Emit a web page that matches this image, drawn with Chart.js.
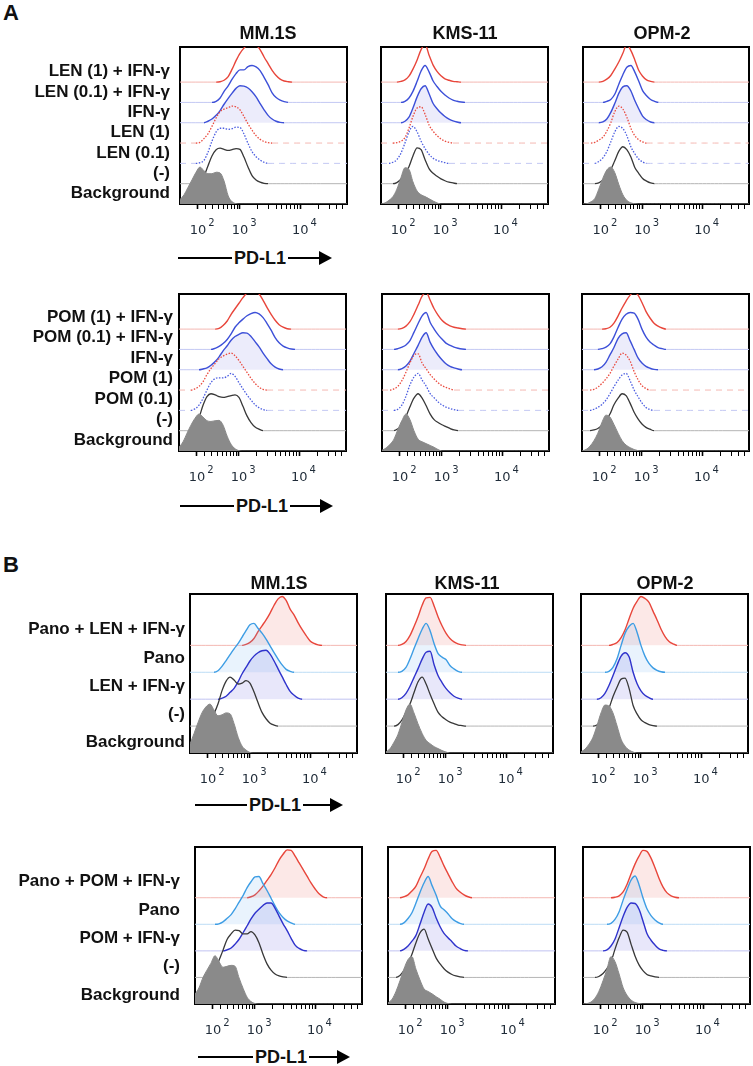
<!DOCTYPE html>
<html>
<head>
<meta charset="utf-8">
<script src="https://cdn.jsdelivr.net/npm/chart.js@4.4.1/dist/chart.umd.min.js"></script>
<style>
  body { margin: 0; background: #fff; width: 753px; height: 1066px; position: relative; overflow: hidden;
         font-family: "Liberation Sans", Arial, sans-serif; color: #111; }
  canvas { position: absolute; }
  .letter { position: absolute; font-weight: bold; font-size: 22px; line-height: 22px; }
  .cell { position: absolute; font-weight: bold; font-size: 18px; line-height: 18px; white-space: nowrap;
          transform: translate(-50%, -50%); }
  .axis { position: absolute; height: 20px; display: flex; align-items: center; font-weight: bold; font-size: 18px; }
  .axis .ln { height: 2.5px; background: #000; }
  .axis .txt { margin: 0 2px; line-height: 20px; }
  .axis .head { width: 0; height: 0; border-top: 7px solid transparent; border-bottom: 7px solid transparent;
                border-left: 13px solid #000; }
</style>
</head>
<body>
<div class="letter" style="left:3px;top:2px">A</div>
<div class="letter" style="left:3px;top:554px">B</div>

<script>
// fluorescence grid (PD-L1 intensity) that every histogram below is sampled on
const intensity = [-108, -60, -15, 30, 75, 125, 175, 230, 290, 360, 435, 520, 620, 730, 855, 1000,
  1170, 1370, 1600, 1870, 2180, 2540, 2960, 3450, 4020, 4680, 5450, 6350, 7400, 8600, 10000,
  11600, 13500, 15800, 18400, 21400, 59000];

const cellLines = ['MM.1S', 'KMS-11', 'OPM-2'];
const decadeTicks = [100, 1000, 10000];
const decadeBase = '10';
const decadeExponents = ['2', '3', '4'];

// row labels, bottom trace first
const labelsLen = ['Background', '(-)', 'LEN (0.1)', 'LEN (1)', 'IFN-\u03b3', 'LEN (0.1) + IFN-\u03b3', 'LEN (1) + IFN-\u03b3'];
const labelsPom = ['Background', '(-)', 'POM (0.1)', 'POM (1)', 'IFN-\u03b3', 'POM (0.1) + IFN-\u03b3', 'POM (1) + IFN-\u03b3'];
const labelsPanoLen = ['Background', '(-)', 'LEN + IFN-\u03b3', 'Pano', 'Pano + LEN + IFN-\u03b3'];
const labelsPanoPom = ['Background', '(-)', 'POM + IFN-\u03b3', 'Pano', 'Pano + POM + IFN-\u03b3'];

// % of mode, one row per histogram (bottom trace first), missing tail = 0
const mm1sLen = [
  [12,25,45,65,85,100,90,82,82,86,84,62,22,6,1],
  [0,0,0,0,0,5,20,48,75,92,96,93,90,92,95,93,72,45,22,10,4,1],
  [0,0,0,0,0,2,8,30,60,85,95,95,92,94,98,97,80,54,32,18,9,3],
  [0,0,0,0,0,2,12,25,45,68,85,92,96,100,98,90,72,52,35,20,10,4,1],
  [0,0,0,0,0,0,0,4,10,20,33,50,66,80,93,100,99,94,84,70,52,35,20,10,4,1],
  [0,0,0,0,0,0,0,0,0,3,12,30,45,63,78,88,88,97,100,96,86,68,48,26,13,6,2],
  [0,0,0,0,0,0,0,0,0,0,1,5,15,35,58,78,92,102,103,100,88,68,50,32,18,8,3,1]
];
const kmsLen = [
  [0,3,10,20,40,72,98,94,60,35,25,20,14,8,3],
  [0,0,0,0,3,12,26,46,75,97,92,65,40,28,20,13,8,4,2],
  [0,0,0,3,10,28,55,85,100,85,60,40,24,14,8,5,2],
  [0,0,0,0,1,5,15,40,72,95,98,78,48,32,20,11,5,2],
  [0,0,0,0,0,0,4,15,40,70,92,100,78,52,38,26,17,10,5,2],
  [0,0,0,0,0,0,3,12,30,57,85,100,82,58,43,30,20,12,6,3,1],
  [0,0,0,0,0,2,6,16,35,60,88,102,72,46,29,17,9,5,2,1]
];
const opmLen = [
  [0,1,6,15,40,70,92,100,85,52,25,10,3,1],
  [0,0,0,0,2,10,22,38,62,88,100,92,72,44,28,14,7,2],
  [0,0,0,0,5,15,32,58,85,100,94,75,45,26,12,4],
  [0,0,0,2,8,16,32,55,85,100,92,70,40,20,9,3],
  [0,0,0,0,0,2,10,28,52,80,97,100,86,60,38,18,8,2],
  [0,0,0,0,0,0,3,8,22,50,75,95,100,82,58,32,18,8,3],
  [0,0,0,0,0,2,8,18,35,55,78,102,85,60,32,16,6,2]
];
const mm1sPom = [
  [10,25,48,70,88,100,92,82,80,82,83,70,40,18,6,1],
  [0,0,0,0,8,35,68,92,100,97,92,90,92,95,97,90,66,40,22,10,4],
  [0,0,0,0,4,14,32,55,75,86,88,88,92,100,92,75,58,42,28,15,7,2],
  [0,0,0,0,3,10,22,42,58,72,85,92,97,100,93,80,64,48,32,18,8,2],
  [0,0,0,0,0,0,2,5,12,22,35,51,65,80,90,96,100,99,90,76,62,45,30,16,7,2],
  [0,0,0,0,0,0,0,0,0,3,8,16,27,42,60,72,82,91,97,100,96,86,70,52,32,18,9,4,1],
  [0,0,0,0,0,0,0,0,0,0,2,10,22,40,55,70,85,98,102,102,95,78,58,40,24,12,5,1]
];
const kmsPom = [
  [2,8,18,32,58,83,100,85,55,32,25,20,15,10,4],
  [0,0,0,0,5,16,38,65,88,100,88,68,45,30,22,16,11,6,2],
  [0,0,0,0,3,15,38,69,90,100,82,66,45,34,23,15,9,5,2],
  [0,0,0,3,10,26,48,74,94,98,73,58,42,30,20,12,7,3],
  [0,0,0,0,0,3,10,23,44,66,88,100,74,55,40,27,16,9,5,2],
  [0,0,0,0,2,6,12,24,46,70,91,100,73,55,40,28,17,11,6,3,1],
  [0,0,0,0,0,2,8,20,40,65,89,100,78,55,38,24,15,9,5,3,1]
];
const opmPom = [
  [0,4,13,28,48,78,97,92,72,48,28,16,9,4,1],
  [0,0,0,2,6,15,28,45,70,88,100,95,74,50,32,18,9,4],
  [0,0,0,3,8,16,28,45,64,82,96,100,80,55,37,20,8,2],
  [0,0,0,2,8,18,30,45,65,84,100,95,78,50,28,12,4],
  [0,0,0,0,2,8,20,40,60,85,97,100,78,55,32,18,9,4,1],
  [0,0,0,0,0,2,6,15,34,60,82,95,100,98,82,55,34,20,12,5,2],
  [0,0,0,0,0,0,1,5,16,36,57,76,92,100,92,72,48,30,16,8,3]
];
const mm1sPanoLen = [
  [18,40,62,82,94,100,88,76,78,82,80,60,32,14,6,1],
  [0,0,0,0,2,10,25,45,72,92,100,94,86,88,93,88,70,48,28,15,6,2],
  [0,0,0,0,0,0,0,0,2,6,14,22,36,52,65,78,88,95,99,100,92,78,62,46,30,16,8,2],
  [0,0,0,0,0,0,0,3,12,24,36,48,59,72,85,97,100,90,80,68,54,40,27,15,6,2],
  [0,0,0,0,0,0,0,0,0,0,0,0,0,0,2,6,14,28,40,52,66,82,95,100,92,74,62,46,32,20,9,4,1]
];
const kmsPanoLen = [
  [2,9,22,38,62,88,100,82,60,40,26,19,13,9,5,2],
  [0,0,0,3,12,28,45,68,90,100,86,65,45,28,19,13,8,5,2,1],
  [0,0,0,0,3,12,26,44,62,82,96,98,70,48,34,22,13,6,2],
  [0,0,0,0,2,10,27,48,68,88,100,85,58,38,31,26,14,7,2],
  [0,0,0,0,2,8,20,38,58,82,97,98,80,58,40,25,14,7,3,1]
];
const opmPanoLen = [
  [2,8,18,32,55,82,98,96,82,55,28,14,6,2],
  [0,0,0,0,2,8,18,36,60,80,96,98,76,42,25,13,7,3,1],
  [0,0,0,0,0,3,12,28,48,70,88,95,86,55,32,17,8,3],
  [0,0,0,0,0,0,0,2,10,28,55,80,94,100,82,55,33,18,9,4,1],
  [0,0,0,0,0,0,0,0,2,6,16,32,55,76,90,100,96,88,70,52,33,18,8,3]
];
const mm1sPanoPom = [
  [20,34,55,70,84,100,88,76,78,80,78,54,32,14,5,1],
  [0,0,0,0,3,14,35,56,78,90,98,97,90,90,95,88,72,48,28,15,7,3,1],
  [0,0,0,0,0,0,0,0,2,6,14,24,38,52,66,78,86,94,99,99,88,72,56,42,26,12,5,1],
  [0,0,0,0,0,0,1,5,12,20,32,46,60,76,88,98,99,84,70,54,38,24,14,7,3],
  [0,0,0,0,0,0,0,0,0,0,0,0,0,0,2,6,14,24,36,48,62,78,90,99,98,86,72,58,44,30,18,8,2]
];
const kmsPanoPom = [
  [2,10,26,48,72,92,98,72,50,31,26,21,15,10,4,1],
  [0,0,0,4,14,28,48,72,92,100,80,60,40,28,18,11,6,3,1],
  [0,0,0,0,3,10,20,32,55,80,97,90,68,50,36,27,19,10,5,1],
  [0,0,0,0,3,12,24,44,66,86,99,80,60,38,30,22,12,6,2],
  [0,0,0,0,2,6,14,24,42,60,80,96,98,84,66,50,34,20,12,6,2]
];
const opmPanoPom = [
  [0,1,4,12,26,48,72,98,88,62,34,18,8,3,1],
  [0,0,0,0,2,8,18,32,58,82,98,94,68,44,26,14,6,3,1],
  [0,0,0,0,0,0,2,10,24,48,71,90,99,98,86,62,36,22,12,4,1],
  [0,0,0,0,0,0,0,2,10,26,50,72,92,100,82,55,32,18,9,3],
  [0,0,0,0,0,0,0,0,1,4,12,28,50,70,86,98,96,82,62,40,22,10,4,1]
];

// ---- line styles -------------------------------------------------------
const gray = { line: '#8a8a8a', base: '#8a8a8a', fill: '#8a8a8a', width: 1 };
const black = { line: '#383838', base: '#b5b5b5', width: 1.3 };
const stylesA = [
  gray, black,
  { line: '#4b5de0', base: '#c3c8f3', width: 1.3, dot: true },
  { line: '#ea4b3f', base: '#f4b8b2', width: 1.3, dot: true },
  { line: '#3d50d8', base: '#c3c8f3', width: 1.4, fill: 'rgba(130,125,230,0.15)' },
  { line: '#3d50d8', base: '#c3c8f3', width: 1.4 },
  { line: '#e8463b', base: '#f4b8b2', width: 1.4 }
];
const stylesB = [
  gray, black,
  { line: '#2f33cc', base: '#c0c2f1', width: 1.4, fill: 'rgba(120,115,225,0.17)' },
  { line: '#3d9de4', base: '#bcdcf5', width: 1.4, fill: 'rgba(120,180,240,0.16)' },
  { line: '#e8463b', base: '#f4b8b2', width: 1.4, fill: 'rgba(240,120,110,0.17)' }
];

const rows = [
  { top: 47, bottom: 204, boxes: [[180, 347], [381, 548], [583, 749]], ymax: 425, labStart: 28, labStep: 55, labPad: 10,
    panels: [mm1sLen, kmsLen, opmLen], labels: labelsLen, styles: stylesA },
  { top: 294, bottom: 451, boxes: [[179, 346], [382, 549], [582, 749]], ymax: 425, labStart: 30, labStep: 55.5, labPad: 6,
    panels: [mm1sPom, kmsPom, opmPom], labels: labelsPom, styles: stylesA },
  { top: 594, bottom: 753, boxes: [[190, 357], [386, 553], [581, 748]], ymax: 325, labStart: 22, labStep: 57.5, labPad: 5,
    panels: [mm1sPanoLen, kmsPanoLen, opmPanoLen], labels: labelsPanoLen, styles: stylesB },
  { top: 847, bottom: 1004, boxes: [[195, 362], [388, 555], [583, 750]], ymax: 325, labStart: 19, labStep: 58.5, labPad: 15,
    panels: [mm1sPanoPom, kmsPanoPom, opmPanoPom], labels: labelsPanoPom, styles: stylesB }
];
const traceStep = 55;

// ---- biexponential (arcsinh) axis like the FlowJo display ---------------
const biex = v => Math.asinh(v / 300);
const biexInv = t => 300 * Math.sinh(t);
const tickValues = [];
decadeTicks.forEach(d => { for (let m = 1; m <= 9; m++) if (m * d <= 59000) tickValues.push(m * d); });

const BaseScale = Chart.Scale || Chart.LinearScale;
class BiexScale extends BaseScale {
  determineDataLimits() {
    this.min = this.options.min;
    this.max = this.options.max;
  }
  buildTicks() {
    return tickValues.map(v => ({ value: v }));
  }
  configure() {
    super.configure();
    this._t0 = biex(this.min);
    this._span = biex(this.max) - this._t0;
  }
  getPixelForValue(v) {
    return this.getPixelForDecimal((biex(v) - this._t0) / this._span);
  }
  getValueForPixel(p) {
    return biexInv(this._t0 + this.getDecimalForPixel(p) * this._span);
  }
  getPixelForTick(i) {
    return this.getPixelForValue(this.ticks[i].value);
  }
  getLabelForValue(v) {
    return String(v);
  }
  // decade labels drawn as 10 with a raised exponent
  drawLabels() {
    const ctx = this.ctx;
    const y = this.top + 27;
    ctx.save();
    ctx.fillStyle = '#1f2b38';
    ctx.textBaseline = 'middle';
    decadeTicks.forEach((v, i) => {
      const x = this.getPixelForValue(v);
      ctx.font = '13px "DejaVu Sans"';
      ctx.textAlign = 'center';
      ctx.fillText(decadeBase, x, y);
      const w = ctx.measureText(decadeBase).width;
      ctx.font = '10px "DejaVu Sans"';
      ctx.textAlign = 'left';
      ctx.fillText(decadeExponents[i], x + w / 2 + 2, y - 8);
    });
    ctx.restore();
  }
}
BiexScale.id = 'biex';
BiexScale.defaults = {};
Chart.register(BiexScale);

// ---- one chart per panel ------------------------------------------------
function frameAxis(pos) {
  return {
    type: 'linear', position: pos, min: 0, max: 1, display: true,
    grid: { display: false, drawTicks: false }, ticks: { display: false },
    border: { display: true, color: '#000', width: 2 },
    afterFit: s => {
      if (pos === 'top') s.height = 0; else s.width = 0;
      s.paddingLeft = s.paddingRight = s.paddingTop = s.paddingBottom = 0;
    }
  };
}

function buildPanel(row, col) {
  const r = rows[row];
  const [bl, br] = r.boxes[col];
  const left = col === 0 ? 0 : bl - 6;
  const top = r.top - 6;
  const cv = document.createElement('canvas');
  cv.width = br + 6 - left;
  cv.height = r.bottom + 42 - top;
  cv.style.left = left + 'px';
  cv.style.top = top + 'px';
  document.body.appendChild(cv);

  const datasets = r.panels[col].map((curve, k) => {
    const base = k * traceStep;
    const st = r.styles[k];
    const flat = c => c.p0.parsed.y === base && c.p1.parsed.y === base;
    return {
      data: intensity.map((x, i) => ({ x: x, y: base + (curve[i] || 0) })),
      xAxisID: 'x', yAxisID: 'y',
      borderColor: st.line,
      borderWidth: st.width,
      backgroundColor: st.fill || 'transparent',
      fill: st.fill ? { value: base } : false,
      pointRadius: 0,
      cubicInterpolationMode: 'monotone',
      segment: {
        borderColor: c => flat(c) ? st.base : st.line,
        borderWidth: c => (flat(c) && k > 0) ? 1 : st.width,
        borderDash: c => st.dot ? (flat(c) ? [6, 5] : [1.5, 1.5]) : undefined
      }
    };
  });

  new Chart(cv, {
    type: 'line',
    data: { datasets: datasets },
    options: {
      responsive: false,
      animation: false,
      events: [],
      layout: { padding: { top: 6, right: 6, left: 0, bottom: 0 } },
      plugins: { legend: { display: false }, tooltip: { enabled: false } },
      scales: {
        x: {
          type: 'biex', position: 'bottom', min: -108, max: 59000,
          grid: {
            display: true, drawOnChartArea: false, drawTicks: true, tickLength: 5,
            tickColor: '#000', tickWidth: c => decadeTicks.includes(c.tick && c.tick.value) ? 1.6 : 1
          },
          border: { display: true, color: '#000', width: 2 },
          ticks: { autoSkip: false, maxRotation: 0, minRotation: 0, callback: () => '' },
          afterFit: s => { s.height = 42; s.paddingLeft = s.paddingRight = 0; }
        },
        y: {
          type: 'linear', position: 'left', min: 0, max: r.ymax,
          grid: { display: false, drawTicks: false },
          border: { display: true, color: '#000', width: 2 },
          afterBuildTicks: s => { s.ticks = r.labels.map((_, k) => ({ value: r.labStart + k * r.labStep })); },
          ticks: {
            display: col === 0, autoSkip: false, padding: r.labPad, color: '#111',
            font: { family: 'Liberation Sans', size: 17, weight: 'bold' },
            callback: (v, i) => r.labels[i]
          },
          afterFit: s => { s.width = bl - left; s.paddingTop = s.paddingBottom = 0; }
        },
        x2: frameAxis('top'),
        y2: frameAxis('right')
      }
    }
  });
}

rows.forEach((r, ri) => r.boxes.forEach((_, ci) => buildPanel(ri, ci)));

// ---- titles and PD-L1 axis arrows ---------------------------------------
const titleSpots = [
  { y: 33, xs: [268, 465, 662] },
  { y: 583, xs: [279, 467, 665] }
];
titleSpots.forEach(t => t.xs.forEach((x, i) => {
  const d = document.createElement('div');
  d.className = 'cell';
  d.style.left = x + 'px';
  d.style.top = t.y + 'px';
  d.textContent = cellLines[i];
  document.body.appendChild(d);
}));

const arrowSpots = [
  { x: 178, y: 258, lead: 54, tip: 332 },
  { x: 180, y: 506, lead: 54, tip: 333 },
  { x: 195, y: 805, lead: 52, tip: 343 },
  { x: 198, y: 1057, lead: 55, tip: 350 }
];
arrowSpots.forEach(a => {
  const d = document.createElement('div');
  d.className = 'axis';
  d.style.left = a.x + 'px';
  d.style.top = (a.y - 10) + 'px';
  d.style.width = (a.tip - a.x) + 'px';
  d.innerHTML = '<span class="ln" style="width:' + a.lead + 'px"></span><span class="txt">PD-L1</span>' +
    '<span class="ln" style="flex:1"></span><span class="head"></span>';
  document.body.appendChild(d);
});
</script>
</body>
</html>
